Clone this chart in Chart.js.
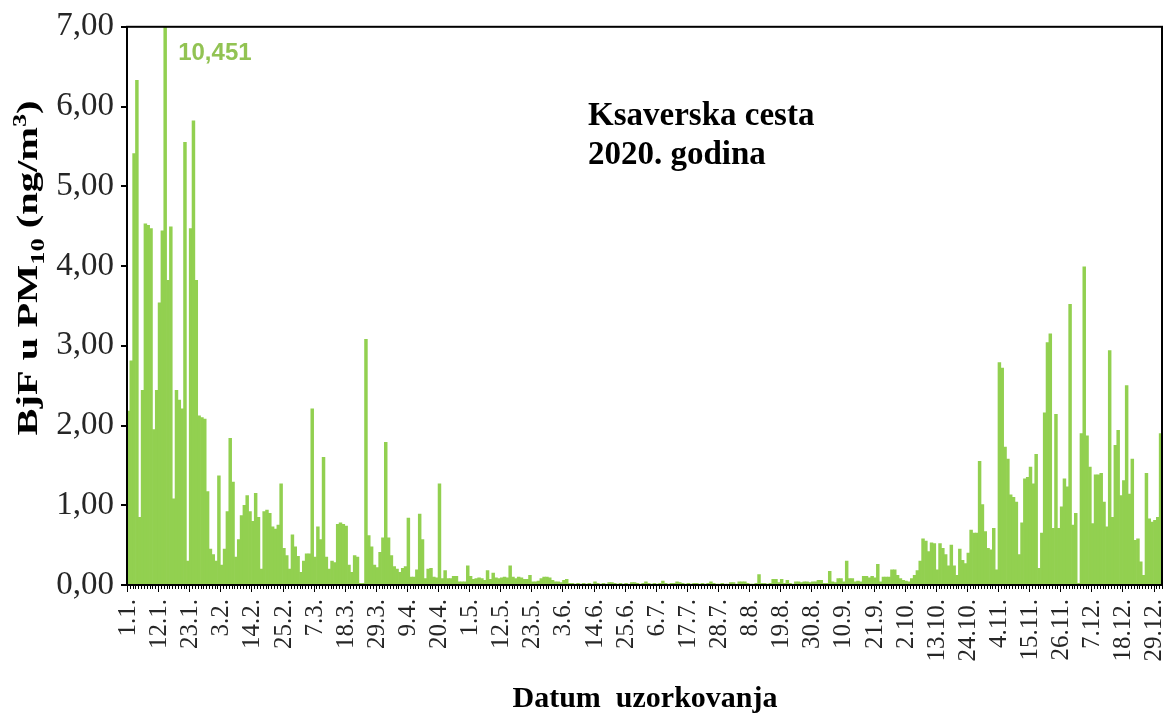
<!DOCTYPE html>
<html lang="hr">
<head>
<meta charset="UTF-8">
<title>BjF u PM10 | Ksaverska cesta 2020.</title>
<style>
  html, body { margin: 0; padding: 0; background: #fff; }
  #okvir { width: 1164px; height: 715px; }
</style>
</head>
<body>
<div id="okvir">
  <canvas id="bjfChart" width="1164" height="715"></canvas>
</div>
<script src="https://cdn.jsdelivr.net/npm/chart.js"></script>
<script>
  // dnevne koncentracije BjF u PM10 (ng/m3), Ksaverska cesta 2020.
  const sijecanj = [2.18, 2.81, 5.41, 6.33, 0.85, 2.44, 4.53, 4.51, 4.47, 1.95, 2.44, 3.54, 4.44, 10.451, 3.82, 4.49,
    1.08, 2.44, 2.32, 2.21, 5.55, 0.30, 4.47, 5.82, 3.82, 2.12, 2.10, 2.08, 1.17, 0.45, 0.38];
  const veljaca = [0.30, 1.37, 0.25, 0.45, 0.92, 1.84, 1.29, 0.35, 0.57, 0.87, 1.00, 1.12, 0.92, 0.80, 1.15,
    0.85, 0.20, 0.92, 0.94, 0.90, 0.73, 0.70, 0.75, 1.27, 0.46, 0.37, 0.20, 0.63, 0.48];
  const ozujak = [0.36, 0.16, 0.30, 0.39, 0.39, 2.21, 0.35, 0.73, 0.57, 1.60, 0.35, 0.20, 0.30, 0.28, 0.76, 0.78,
    0.76, 0.74, 0.25, 0.16, 0.37, 0.35, 0.02, 0.02, 3.08, 0.62, 0.48, 0.25, 0.22, 0.41, 0.59];
  const travanj = [1.79, 0.59, 0.37, 0.23, 0.20, 0.16, 0.21, 0.23, 0.84, 0.10, 0.10, 0.19, 0.89, 0.57, 0.08,
    0.20, 0.21, 0.10, 0.09, 1.27, 0.08, 0.18, 0.08, 0.08, 0.11, 0.11, 0.04, 0.04, 0.04, 0.24];
  const svibanj = [0.11, 0.07, 0.08, 0.09, 0.08, 0.06, 0.18, 0.07, 0.15, 0.09, 0.08, 0.09, 0.10, 0.09, 0.24,
    0.10, 0.08, 0.10, 0.09, 0.07, 0.07, 0.12, 0.04, 0.04, 0.05, 0.08, 0.10, 0.10, 0.09, 0.06, 0.04];
  const lipanj = [0.04, 0.03, 0.06, 0.07, 0.02, 0.02, 0.01, 0.02, 0.01, 0.02, 0.01, 0.02, 0.01, 0.04, 0.02,
    0.01, 0.02, 0.01, 0.03, 0.03, 0.02, 0.01, 0.02, 0.01, 0.02, 0.01, 0.03, 0.03, 0.02, 0.01];
  const srpanj = [0.02, 0.04, 0.02, 0.01, 0.02, 0.01, 0.02, 0.05, 0.02, 0.01, 0.02, 0.02, 0.04, 0.03, 0.02,
    0.01, 0.02, 0.01, 0.02, 0.02, 0.01, 0.02, 0.01, 0.02, 0.04, 0.02, 0.01, 0.01, 0.02, 0.01, 0.01];
  const kolovoz = [0.03, 0.03, 0.01, 0.04, 0.04, 0.04, 0.02, 0.01, 0.01, 0.02, 0.13, 0.02, 0.02, 0.01, 0.02,
    0.07, 0.07, 0.03, 0.07, 0.02, 0.06, 0.02, 0.01, 0.04, 0.04, 0.03, 0.04, 0.04, 0.03, 0.04, 0.04];
  const rujan = [0.06, 0.06, 0.02, 0.02, 0.17, 0.04, 0.03, 0.08, 0.08, 0.04, 0.30, 0.08, 0.08, 0.04, 0.05,
    0.04, 0.11, 0.11, 0.09, 0.11, 0.09, 0.26, 0.04, 0.10, 0.10, 0.10, 0.19, 0.19, 0.12, 0.08];
  const listopad = [0.06, 0.05, 0.04, 0.08, 0.12, 0.18, 0.30, 0.58, 0.55, 0.42, 0.53, 0.52, 0.19, 0.52, 0.46,
    0.38, 0.24, 0.50, 0.24, 0.12, 0.45, 0.31, 0.27, 0.40, 0.69, 0.65, 0.65, 1.55, 1.01, 0.67, 0.46];
  const studeni = [0.44, 0.71, 0.19, 2.79, 2.72, 1.73, 1.58, 1.13, 1.10, 1.04, 0.38, 0.78, 1.33, 1.35, 1.48,
    1.27, 1.64, 0.21, 0.65, 2.16, 3.04, 3.15, 0.71, 2.14, 0.71, 0.98, 1.33, 1.23, 3.52, 0.75];
  const prosinac = [0.90, 0.02, 1.90, 3.99, 1.87, 1.48, 0.77, 1.38, 1.38, 1.40, 1.04, 0.73, 2.94, 0.85, 1.75,
    1.94, 1.12, 1.31, 2.50, 1.14, 1.58, 0.56, 0.58, 0.29, 0.12, 1.40, 0.83, 0.79, 0.81, 0.85, 1.90];

  const mjeseci = [sijecanj, veljaca, ozujak, travanj, svibanj, lipanj, srpanj, kolovoz, rujan, listopad, studeni, prosinac];

  // oznake na osi x (svaki 11. dan)
  const oznakeX = ['1.1.', '12.1.', '23.1.', '3.2.', '14.2.', '25.2.', '7.3.', '18.3.', '29.3.', '9.4.', '20.4.',
    '1.5.', '12.5.', '23.5.', '3.6.', '14.6.', '25.6.', '6.7.', '17.7.', '28.7.', '8.8.', '19.8.', '30.8.',
    '10.9.', '21.9.', '2.10.', '13.10.', '24.10.', '4.11.', '15.11.', '26.11.', '7.12.', '18.12.', '29.12.'];
  const oznakeY = [0, 1, 2, 3, 4, 5, 6, 7];

  const dani = [];
  const vrijednosti = [];
  mjeseci.forEach((mj, m) => {
    mj.forEach((v, i) => {
      dani.push((i + 1) + '.' + (m + 1) + '.');
      vrijednosti.push(v);
    });
  });

  const serif = '"Liberation Serif", "Times New Roman", serif';
  const maxVrijednost = Math.max(...vrijednosti);
  const maxIndex = vrijednosti.indexOf(maxVrijednost);

  // okvir, kvacice na osi x i tekstovi
  const dodaci = {
    id: 'dodaci',
    afterDraw(chart) {
      const c = chart.ctx;
      const a = chart.chartArea;
      const xs = chart.scales.x;
      const korak = xs.getPixelForValue(1) - xs.getPixelForValue(0);

      c.save();
      c.strokeStyle = '#000';
      c.lineWidth = 2;
      c.strokeRect(a.left, a.top, a.right - a.left, a.bottom - a.top);

      c.lineWidth = 1;
      c.beginPath();
      for (let i = 0; i <= dani.length; i++) {
        const x = Math.round(xs.getPixelForValue(i) - korak / 2) + 0.5;
        const duga = i % 11 === 0;
        c.moveTo(x, a.bottom);
        c.lineTo(x, a.bottom + (duga ? 7 : 4));
      }
      c.stroke();

      // max vrijednost pokraj odrezanog stupca
      const px = xs.getPixelForValue(maxIndex);
      c.fillStyle = '#92c353';
      c.font = 'bold 24px "Liberation Sans", Arial, sans-serif';
      c.textBaseline = 'alphabetic';
      c.textAlign = 'left';
      c.fillText(maxVrijednost.toFixed(3).replace('.', ','), px + 13, a.top + 33);

      // naziv postaje
      c.fillStyle = '#000';
      c.font = 'bold 33px ' + serif;
      c.fillText('Ksaverska cesta', 588, 125);
      c.fillText('2020. godina', 588, 164);

      // naslov osi x
      c.textAlign = 'center';
      c.font = 'bold 30px ' + serif;
      c.fillText('Datum  uzorkovanja', 645, 707);

      // naslov osi y s indeksom i eksponentom
      const dijelovi = [
        { t: 'BjF u PM', s: 1, d: 0 },
        { t: '10', s: 0.65, d: 0.22 },
        { t: ' (ng/m', s: 1, d: 0 },
        { t: '3', s: 0.65, d: -0.38 },
        { t: ')', s: 1, d: 0 }
      ];
      const vel = 30;
      let ukupno = 0;
      dijelovi.forEach(p => {
        c.font = 'bold ' + (vel * p.s) + 'px ' + serif;
        p.w = c.measureText(p.t).width;
        ukupno += p.w;
      });
      const duljina = 335;
      c.translate(37, 268);
      c.rotate(-Math.PI / 2);
      c.scale(duljina / ukupno, 1);
      c.textAlign = 'left';
      let x = -ukupno / 2;
      dijelovi.forEach(p => {
        c.font = 'bold ' + (vel * p.s) + 'px ' + serif;
        c.fillText(p.t, x, p.d * vel);
        x += p.w;
      });
      c.restore();
    }
  };

  const ctx = document.getElementById('bjfChart').getContext('2d');
  new Chart(ctx, {
    type: 'bar',
    data: {
      labels: dani,
      datasets: [{
        label: 'BjF',
        data: vrijednosti,
        backgroundColor: '#92d050',
        borderWidth: 0,
        barPercentage: 1,
        categoryPercentage: 1
      }]
    },
    options: {
      responsive: false,
      animation: false,
      devicePixelRatio: 1,
      layout: { padding: { top: 25, right: 2, left: 0, bottom: 0 } },
      plugins: {
        legend: { display: false },
        tooltip: { enabled: false }
      },
      scales: {
        x: {
          grid: { display: false },
          border: { display: false },
          ticks: {
            autoSkip: false,
            minRotation: 90,
            maxRotation: 90,
            padding: 6,
            color: '#262626',
            font: { family: serif, size: 25 },
            callback: (v, i) => oznakeX.includes(dani[i]) ? dani[i] : ''
          },
          afterFit: s => {
            s.height = 130;
            s.paddingLeft = 0;
            s.paddingRight = 0;
          }
        },
        y: {
          min: 0,
          max: 7,
          afterBuildTicks: s => { s.ticks = oznakeY.map(v => ({ value: v })); },
          ticks: {
            padding: 7,
            color: '#262626',
            font: { family: serif, size: 33 },
            callback: v => v.toFixed(2).replace('.', ',')
          },
          grid: { drawOnChartArea: false, tickLength: 6, color: '#000', lineWidth: 2 },
          border: { display: false },
          afterFit: s => { s.width = 127; }
        }
      }
    },
    plugins: [dodaci]
  });
</script>
</body>
</html>
